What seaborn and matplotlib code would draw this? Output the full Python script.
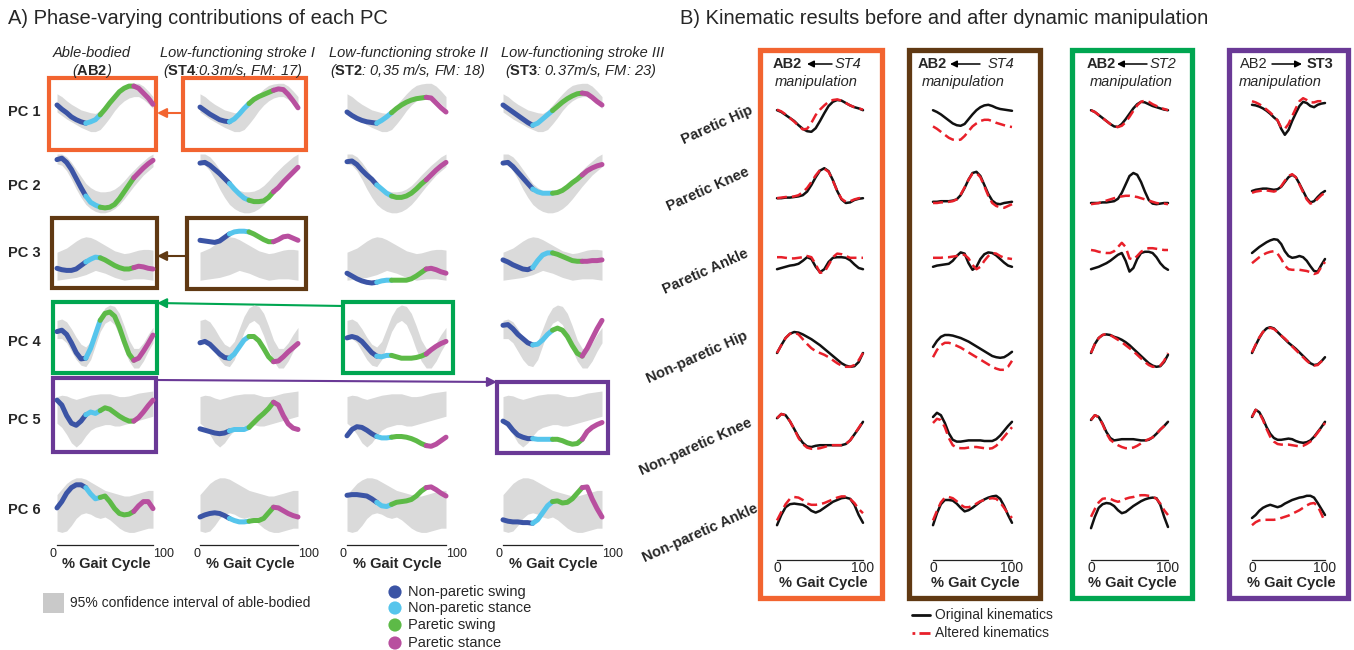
import matplotlib
matplotlib.use("Agg")
import matplotlib.pyplot as plt
from matplotlib.patches import Rectangle, FancyArrowPatch
import pandas as pd
import seaborn as sns

W, H = 1354, 650

# ---------------- data ----------------
GAIT_PCT = list(range(0, 101, 5))

PHASES = ["Non-paretic swing", "Non-paretic stance", "Paretic swing", "Paretic stance"]
PHASE_COLORS = ["#3B54A5", "#56C5EC", "#5DBA47", "#B84F9F"]
BAND_COLOR = "#DADADA"

SUBJECT_TITLES = ["Able-bodied", "Low-functioning stroke I",
                  "Low-functioning stroke II", "Low-functioning stroke III"]
SUBJECT_IDS = ["AB2", "ST4", "ST2", "ST3"]
SUBJECT_INFO = ["", ":0.3m/s, FM: 17", ": 0,35 m/s, FM: 18", ": 0.37m/s, FM: 23"]
# gait phase boundaries (% gait cycle) for AB2, ST4, ST2, ST3
PHASE_BOUNDS = [[0, 30, 45, 80, 100], [0, 30, 50, 75, 100],
                [0, 30, 45, 80, 100], [0, 30, 50, 80, 100]]

PC_LABELS = ["PC 1", "PC 2", "PC 3", "PC 4", "PC 5", "PC 6"]

# PC contributions (normalised units), one list per subject: AB2, ST4, ST2, ST3
PC1 = [[60, 54, 49, 43, 39, 36, 34, 36, 39, 46, 54, 63, 71, 79, 84, 87, 87, 84, 77, 70, 61],
       [57, 52, 47, 43, 39, 37, 36, 40, 47, 55, 62, 68, 72, 75, 78, 81, 83, 82, 75, 66, 56],
       [50, 45, 41, 38, 36, 35, 34, 38, 43, 49, 55, 60, 64, 67, 69, 70, 71, 70, 63, 56, 50],
       [60, 55, 50, 45, 40, 35, 31, 34, 40, 46, 52, 58, 64, 69, 73, 76, 77, 76, 71, 65, 60]]
PC2 = [[82, 84, 78, 68, 55, 42, 30, 21, 17, 14, 13, 14, 18, 26, 36, 46, 56, 63, 70, 76, 81],
       [77, 78, 74, 68, 62, 55, 48, 40, 33, 27, 24, 22, 22, 23, 28, 36, 42, 50, 57, 64, 71],
       [79, 80, 75, 67, 60, 54, 46, 40, 34, 30, 28, 28, 30, 34, 40, 47, 53, 60, 67, 73, 78],
       [77, 78, 72, 64, 56, 48, 40, 36, 34, 34, 34, 35, 38, 43, 49, 54, 60, 66, 70, 73, 75]]
PC3 = [[31, 29, 28, 28, 30, 35, 40, 44, 47, 46, 43, 39, 35, 32, 30, 30, 32, 34, 33, 31, 30],
       [71, 70, 69, 68, 70, 75, 80, 83, 84, 84, 83, 80, 76, 72, 69, 69, 72, 76, 77, 74, 71],
       [24, 20, 16, 13, 11, 10, 11, 13, 14, 14, 14, 14, 14, 16, 20, 25, 30, 31, 29, 26, 24],
       [43, 40, 36, 33, 30, 29, 32, 42, 50, 53, 53, 51, 48, 45, 42, 41, 41, 41, 42, 42, 43]]
PC4 = [[62, 64, 58, 46, 32, 23, 24, 38, 58, 78, 88, 90, 84, 68, 48, 30, 21, 24, 34, 45, 57],
       [46, 48, 44, 37, 30, 25, 24, 30, 40, 50, 55, 55, 49, 38, 26, 19, 20, 26, 33, 39, 45],
       [53, 55, 53, 48, 40, 32, 27, 26, 28, 28, 26, 24, 24, 24, 25, 27, 30, 36, 41, 45, 48],
       [71, 72, 66, 58, 52, 46, 43, 44, 50, 58, 64, 67, 64, 55, 42, 31, 27, 38, 52, 66, 78]]
PC5 = [[67, 60, 45, 34, 31, 37, 46, 50, 48, 52, 56, 54, 49, 44, 40, 37, 37, 42, 50, 59, 67],
       [26, 24, 22, 20, 19, 20, 23, 25, 25, 25, 28, 35, 42, 48, 55, 64, 60, 45, 33, 27, 25],
       [16, 25, 29, 28, 24, 19, 15, 13, 13, 14, 15, 15, 14, 12, 9, 5, 2, 1, 4, 9, 14],
       [37, 33, 24, 17, 14, 12, 12, 11, 11, 11, 11, 11, 9, 6, 4, 5, 11, 22, 28, 32, 35]]
PC6 = [[53, 62, 74, 82, 86, 86, 82, 73, 66, 68, 70, 62, 52, 45, 43, 44, 48, 56, 62, 62, 52],
       [40, 43, 45, 46, 45, 42, 38, 35, 33, 33, 34, 35, 35, 38, 46, 54, 53, 49, 45, 42, 40],
       [71, 72, 72, 71, 70, 66, 61, 56, 55, 58, 61, 62, 63, 65, 70, 77, 82, 83, 79, 74, 70],
       [36, 34, 33, 33, 32, 32, 31, 36, 46, 56, 62, 63, 60, 61, 66, 74, 82, 83, 66, 52, 40]]

# 95% confidence interval of able-bodied (lower / upper) per PC
PC1_CI = [[50, 45, 40, 36, 32, 28, 25, 22, 22, 25, 33, 42, 52, 60, 66, 70, 72, 72, 68, 62, 55],
          [76, 72, 66, 61, 57, 53, 51, 49, 48, 52, 60, 68, 76, 83, 88, 90, 91, 91, 87, 80, 72]]
PC2_CI = [[76, 74, 66, 54, 40, 28, 18, 12, 8, 6, 6, 8, 12, 18, 26, 35, 44, 52, 60, 66, 72],
          [90, 90, 86, 78, 68, 58, 48, 42, 38, 36, 36, 37, 40, 45, 52, 60, 67, 74, 80, 86, 90]]
PC3_CI = [[14, 15, 16, 17, 18, 20, 22, 25, 28, 26, 24, 21, 18, 16, 14, 15, 16, 16, 16, 15, 14],
          [54, 57, 60, 65, 70, 74, 76, 75, 72, 68, 64, 60, 56, 54, 52, 53, 55, 57, 58, 58, 57]]
PC4_CI = [[52, 52, 46, 34, 22, 14, 12, 22, 42, 62, 74, 78, 72, 56, 36, 20, 10, 10, 20, 34, 46],
          [78, 80, 76, 66, 54, 44, 40, 48, 66, 84, 96, 100, 98, 88, 70, 50, 38, 38, 46, 58, 68]]
PC5_CI = [[34, 28, 18, 6, 0, 6, 16, 24, 28, 30, 32, 32, 30, 30, 32, 34, 36, 38, 40, 42, 44],
          [72, 74, 73, 70, 68, 70, 72, 74, 75, 76, 76, 76, 74, 72, 72, 73, 75, 77, 78, 79, 80]]
PC6_CI = [[20, 18, 20, 28, 38, 44, 46, 44, 40, 38, 40, 36, 30, 24, 20, 18, 18, 20, 22, 24, 24],
          [72, 80, 88, 93, 96, 96, 94, 90, 86, 82, 78, 76, 74, 72, 70, 70, 72, 74, 76, 78, 78]]

PC_CURVES = [PC1, PC2, PC3, PC4, PC5, PC6]
PC_BANDS = [PC1_CI, PC2_CI, PC3_CI, PC4_CI, PC5_CI, PC6_CI]

# ---- panel B: joint kinematics (normalised), columns = the four manipulations
JOINTS = ["Paretic Hip", "Paretic Knee", "Paretic Ankle",
          "Non-paretic Hip", "Non-paretic Knee", "Non-paretic Ankle"]
MANIP_COLORS = ["#F26430", "#603913", "#00A651", "#6A3996"]
KIN_KINDS = ["Original kinematics", "Altered kinematics"]
KIN_COLORS = ["#111111", "#E8202A"]

P_HIP_ORIG = [[63, 60, 55, 50, 45, 38, 32, 28, 27, 33, 45, 58, 70, 77, 80, 79, 75, 71, 68, 66, 63],
              [63, 60, 56, 51, 46, 41, 38, 37, 40, 48, 56, 63, 68, 71, 72, 70, 67, 65, 64, 63, 62],
              [63, 60, 55, 50, 45, 40, 36, 35, 40, 48, 57, 66, 73, 77, 76, 73, 70, 68, 66, 64, 63],
              [72, 71, 69, 66, 62, 57, 51, 46, 32, 22, 30, 45, 58, 70, 77, 75, 70, 68, 72, 74, 75]]
P_HIP_ALT = [[64, 61, 56, 50, 44, 37, 31, 32, 42, 55, 64, 71, 77, 80, 81, 79, 75, 71, 68, 66, 64],
             [36, 32, 27, 22, 17, 14, 13, 14, 20, 28, 36, 41, 45, 47, 47, 45, 42, 40, 38, 36, 35],
             [63, 60, 55, 50, 45, 40, 36, 35, 37, 43, 52, 62, 71, 77, 79, 77, 73, 70, 67, 65, 63],
             [78, 76, 73, 69, 64, 59, 53, 46, 34, 32, 40, 53, 66, 78, 83, 80, 76, 76, 78, 78, 78]]
P_KNEE_ORIG = [[33, 33, 34, 34, 35, 36, 38, 44, 55, 68, 79, 83, 78, 63, 45, 31, 25, 26, 30, 32, 33],
               [27, 27, 28, 28, 28, 29, 31, 38, 50, 64, 75, 77, 70, 55, 40, 29, 24, 23, 25, 26, 27],
               [25, 25, 25, 26, 26, 27, 28, 32, 42, 56, 70, 75, 72, 60, 44, 30, 24, 23, 24, 25, 25],
               [45, 47, 48, 49, 49, 48, 47, 48, 52, 60, 68, 72, 68, 57, 45, 33, 26, 28, 35, 41, 45]]
P_KNEE_ALT = [[33, 34, 35, 35, 36, 38, 43, 50, 60, 71, 80, 82, 77, 62, 45, 32, 27, 28, 31, 33, 34],
              [25, 25, 26, 26, 27, 28, 31, 39, 51, 64, 74, 75, 68, 53, 37, 25, 20, 18, 17, 20, 23],
              [23, 24, 25, 27, 29, 31, 33, 35, 36, 37, 37, 36, 35, 33, 31, 29, 27, 25, 24, 24, 23],
              [42, 44, 45, 46, 46, 45, 44, 46, 53, 62, 70, 73, 68, 56, 43, 31, 24, 26, 32, 38, 42]]
P_ANKLE_ORIG = [[38, 40, 42, 44, 45, 47, 52, 58, 55, 42, 33, 38, 50, 57, 58, 58, 57, 53, 46, 40, 38],
                [42, 44, 45, 46, 47, 52, 60, 66, 64, 48, 37, 42, 55, 63, 66, 65, 61, 55, 49, 44, 42],
                [38, 40, 42, 45, 48, 52, 57, 62, 65, 52, 34, 40, 55, 65, 67, 67, 65, 58, 48, 41, 37],
                [65, 70, 75, 79, 83, 86, 88, 87, 80, 68, 60, 57, 58, 60, 58, 52, 43, 35, 34, 45, 55]]
P_ANKLE_ALT = [[58, 58, 57, 56, 56, 57, 58, 60, 58, 46, 32, 33, 45, 58, 64, 63, 60, 57, 57, 57, 57],
               [57, 57, 57, 58, 58, 59, 60, 62, 62, 56, 45, 38, 42, 52, 60, 65, 64, 60, 57, 56, 55],
               [70, 69, 67, 66, 65, 65, 68, 75, 82, 75, 56, 54, 60, 67, 71, 73, 73, 72, 71, 70, 70],
               [48, 53, 58, 62, 65, 67, 68, 64, 55, 44, 38, 37, 37, 37, 36, 35, 33, 30, 32, 42, 50]]
NP_HIP_ORIG = [[45, 58, 70, 77, 80, 79, 76, 72, 68, 63, 58, 52, 46, 40, 34, 28, 24, 22, 23, 30, 45],
               [55, 65, 72, 75, 75, 74, 72, 70, 67, 64, 60, 56, 52, 48, 44, 40, 38, 37, 38, 42, 47],
               [45, 60, 70, 75, 76, 75, 72, 70, 67, 63, 58, 52, 46, 40, 34, 28, 24, 22, 23, 30, 42],
               [45, 58, 70, 80, 86, 88, 86, 80, 74, 68, 62, 57, 52, 46, 40, 34, 28, 25, 26, 31, 38]]
NP_HIP_ALT = [[45, 58, 70, 77, 79, 76, 68, 60, 53, 48, 45, 42, 38, 33, 28, 24, 22, 22, 25, 33, 45],
              [38, 50, 58, 62, 62, 60, 57, 54, 50, 46, 42, 38, 34, 30, 26, 22, 19, 17, 17, 22, 32],
              [45, 60, 70, 75, 77, 75, 71, 67, 63, 58, 53, 48, 42, 36, 30, 25, 22, 22, 24, 32, 45],
              [46, 59, 71, 80, 85, 87, 85, 80, 74, 69, 63, 56, 50, 44, 38, 32, 27, 24, 25, 31, 39]]
NP_KNEE_ORIG = [[73, 80, 78, 68, 55, 42, 32, 26, 25, 27, 28, 28, 28, 28, 28, 28, 30, 36, 46, 56, 67],
                [75, 82, 78, 65, 48, 37, 34, 34, 35, 36, 36, 36, 36, 35, 35, 35, 38, 44, 52, 60, 67],
                [70, 78, 75, 64, 50, 40, 36, 37, 38, 38, 38, 38, 37, 36, 36, 37, 41, 47, 54, 60, 67],
                [75, 87, 83, 72, 58, 47, 40, 37, 37, 38, 39, 38, 35, 33, 32, 33, 36, 42, 50, 58, 67]]
NP_KNEE_ALT = [[73, 80, 78, 68, 55, 40, 30, 24, 22, 22, 23, 25, 27, 28, 28, 28, 30, 36, 46, 57, 68],
               [65, 72, 70, 58, 40, 28, 24, 23, 23, 24, 25, 25, 24, 23, 22, 23, 27, 34, 42, 50, 58],
               [70, 78, 75, 63, 48, 37, 32, 28, 25, 23, 23, 24, 27, 31, 35, 38, 41, 47, 54, 60, 67],
               [75, 87, 82, 70, 55, 42, 34, 30, 29, 29, 29, 28, 27, 26, 27, 30, 34, 41, 49, 57, 65]]
NP_ANKLE_ORIG = [[28, 45, 58, 63, 64, 63, 62, 58, 52, 49, 52, 57, 62, 67, 70, 73, 74, 72, 62, 45, 32],
                 [28, 48, 63, 70, 70, 69, 64, 57, 51, 53, 57, 62, 67, 71, 74, 76, 77, 72, 60, 45, 32],
                 [23, 42, 57, 63, 65, 64, 60, 53, 48, 50, 55, 60, 64, 68, 71, 73, 74, 73, 62, 42, 25],
                 [40, 45, 52, 57, 60, 62, 60, 58, 60, 64, 67, 70, 72, 74, 75, 77, 77, 74, 65, 55, 45]]
NP_ANKLE_ALT = [[36, 50, 63, 72, 75, 74, 70, 64, 62, 62, 63, 65, 68, 71, 74, 76, 76, 72, 65, 55, 48],
                [36, 52, 66, 74, 75, 73, 68, 62, 58, 58, 60, 64, 68, 70, 72, 73, 72, 66, 57, 47, 40],
                [42, 55, 66, 72, 73, 72, 69, 67, 69, 72, 74, 75, 77, 78, 78, 77, 76, 72, 64, 53, 45],
                [28, 33, 36, 37, 37, 37, 37, 38, 40, 42, 44, 47, 50, 53, 57, 61, 64, 65, 60, 47, 33]]

KIN_ORIG = [P_HIP_ORIG, P_KNEE_ORIG, P_ANKLE_ORIG, NP_HIP_ORIG, NP_KNEE_ORIG, NP_ANKLE_ORIG]
KIN_ALT = [P_HIP_ALT, P_KNEE_ALT, P_ANKLE_ALT, NP_HIP_ALT, NP_KNEE_ALT, NP_ANKLE_ALT]

# ---------------- figure ----------------
sns.set_style("white")
plt.rcParams["font.family"] = ["Liberation Sans", "DejaVu Sans"]
plt.rcParams["mathtext.fontset"] = "custom"
plt.rcParams["mathtext.rm"] = "Liberation Sans"
plt.rcParams["mathtext.it"] = "Liberation Sans:italic"
plt.rcParams["mathtext.bf"] = "Liberation Sans:bold"

fig = plt.figure(figsize=(W / 100, H / 100), dpi=100)
bg = fig.add_axes([0, 0, 1, 1])
bg.set_xlim(0, W)
bg.set_ylim(H, 0)
bg.axis("off")


def mini_axes(x0, x1, yc, h):
    ax = fig.add_axes([x0 / W, 1 - (yc + h / 2) / H, (x1 - x0) / W, h / H])
    ax.set_facecolor("none")
    return ax


def finish_axes(ax, scale_bar=False, offset=0, tick_size=8, tick_ha=("right", "left"), pad=1):
    ax.set_xlim(0, 100)
    ax.set_ylim(0, 100)
    ax.set_xlabel("")
    ax.set_ylabel("")
    ax.set_yticks([])
    for side in ["top", "right", "left"]:
        ax.spines[side].set_visible(False)
    for art in ax.lines + ax.collections:
        art.set_clip_on(False)
    if scale_bar:
        ax.spines["bottom"].set_position(("outward", offset))
        ax.spines["bottom"].set_linewidth(0.9)
        ax.spines["bottom"].set_color("#222222")
        ax.set_xticks([0, 100])
        ax.set_xticklabels(["0", "100"], fontsize=tick_size, color="#222222")
        ax.tick_params(axis="x", direction="in", length=3, width=0.9, pad=pad)
        lbl = ax.get_xticklabels()
        lbl[0].set_ha(tick_ha[0])
        lbl[1].set_ha(tick_ha[1])
    else:
        ax.spines["bottom"].set_visible(False)
        ax.set_xticks([])


def frame(x0, y0, x1, y1, color, lw):
    bg.add_patch(Rectangle((x0, y0), x1 - x0, y1 - y0, fill=False, ec=color, lw=lw))


def arrow(tail, head, color, lw=1.5, size=14):
    bg.add_patch(FancyArrowPatch(tail, head, arrowstyle="-|>", mutation_scale=size,
                                 color=color, lw=lw, shrinkA=0, shrinkB=0))


# ---- panel A ----
bg.text(8, 18, "A) Phase-varying contributions of each PC", fontsize=14.5, va="center")

A_COLS = [(57, 153), (200, 298), (347, 446), (503, 602)]
A_ROWS = [112, 182, 255, 340, 412, 510]
A_LABEL_Y = [112, 186, 253, 342, 420, 510]
A_H = 70

for r, (curves, band) in enumerate(zip(PC_CURVES, PC_BANDS)):
    bg.text(24, A_LABEL_Y[r], PC_LABELS[r], ha="center", va="center",
            fontsize=10.5, fontweight="bold")
    for c, vals in enumerate(curves):
        ax = mini_axes(A_COLS[c][0], A_COLS[c][1], A_ROWS[r], A_H)
        ax.fill_between(GAIT_PCT, band[0], band[1], color=BAND_COLOR, lw=0)
        b = PHASE_BOUNDS[c]
        rows = []
        for k, ph in enumerate(PHASES):
            for p, v in zip(GAIT_PCT, vals):
                if b[k] <= p <= b[k + 1]:
                    rows.append((p, v, ph))
        df = pd.DataFrame(rows, columns=["pct", "value", "phase"])
        sns.lineplot(data=df, x="pct", y="value", hue="phase", hue_order=PHASES,
                     palette=PHASE_COLORS, estimator=None, lw=3.6, legend=False,
                     solid_capstyle="round", ax=ax)
        finish_axes(ax, scale_bar=(r == len(PC_CURVES) - 1), offset=0, tick_size=9, pad=2.5)

for c, (x0, x1) in enumerate(A_COLS):
    bg.text((x0 + x1) / 2 + 1, 564, "% Gait Cycle", ha="center", va="center",
            fontsize=10.5, fontweight="bold")

A_TITLE_X = [92, 237, 409, 583]
A_DETAIL_X = [92, 233, 408, 581]
for c in range(4):
    bg.text(A_TITLE_X[c], 53, SUBJECT_TITLES[c], ha="center", va="center",
            fontsize=10.5, fontstyle="italic")
    detail = "(" + r"$\mathbf{" + SUBJECT_IDS[c] + "}$" + SUBJECT_INFO[c] + ")"
    bg.text(A_DETAIL_X[c], 71, detail, ha="center", va="center",
            fontsize=10.5, fontstyle="italic")

# highlight frames and arrows
frame(49, 78, 156, 150, MANIP_COLORS[0], 3)
frame(183, 78, 306, 150, MANIP_COLORS[0], 3)
arrow((183, 113), (157, 113), MANIP_COLORS[0])
frame(52, 218, 157, 288, MANIP_COLORS[1], 3)
frame(187, 218, 306, 289, MANIP_COLORS[1], 3)
arrow((187, 256), (157, 256), MANIP_COLORS[1])
frame(53, 302, 157, 373, MANIP_COLORS[2], 3)
frame(343, 302, 453, 373, MANIP_COLORS[2], 3)
arrow((343, 306), (157, 303), MANIP_COLORS[2])
frame(53, 378, 156, 452, MANIP_COLORS[3], 3)
frame(497, 382, 608, 453, MANIP_COLORS[3], 3)
arrow((156, 380), (497, 382), MANIP_COLORS[3])

# legends of panel A
bg.add_patch(Rectangle((43, 593), 21, 20, color="#C9C9C9", lw=0))
bg.text(70, 603, "95% confidence interval of able-bodied", va="center", fontsize=10)
LEG_Y = [592, 608, 625, 643]
bg.scatter([395] * 4, LEG_Y, s=90, c=PHASE_COLORS, lw=0)
for y, ph in zip(LEG_Y, PHASES):
    bg.text(408, y, ph, va="center", fontsize=10.5)

# ---- panel B ----
bg.text(680, 18, "B) Kinematic results before and after dynamic manipulation",
        fontsize=14.5, va="center")

B_COLS = [(777, 863), (933, 1012), (1091, 1168), (1252, 1325)]
B_ROWS = [118, 188, 262, 350, 432, 512]
B_H = 60
B_LABEL_END = [(752, 109), (749, 171), (748, 253), (747, 335), (751, 422), (757, 508)]

for r, joint in enumerate(JOINTS):
    bg.text(B_LABEL_END[r][0], B_LABEL_END[r][1], joint, rotation=24, rotation_mode="anchor",
            ha="right", va="center", fontsize=10.5, fontweight="bold")
    for c in range(4):
        ax = mini_axes(B_COLS[c][0], B_COLS[c][1], B_ROWS[r], B_H)
        df = pd.DataFrame({
            "pct": GAIT_PCT * 2,
            "value": KIN_ORIG[r][c] + KIN_ALT[r][c],
            "kind": [KIN_KINDS[0]] * len(GAIT_PCT) + [KIN_KINDS[1]] * len(GAIT_PCT),
        })
        sns.lineplot(data=df, x="pct", y="value", hue="kind", style="kind",
                     hue_order=KIN_KINDS, style_order=KIN_KINDS, palette=KIN_COLORS,
                     dashes=["", (4, 2)], estimator=None, lw=1.8, legend=False, ax=ax)
        finish_axes(ax, scale_bar=(r == len(JOINTS) - 1), offset=13, tick_size=10,
                    tick_ha=("center", "center"), pad=1)

for c, (x0, x1) in enumerate(B_COLS):
    bg.text((x0 + x1) / 2 + 3, 583, "% Gait Cycle", ha="center", va="center",
            fontsize=10.5, fontweight="bold")

B_FRAMES = [(760, 50, 882, 598), (909, 50, 1040, 598), (1072, 50, 1192, 598), (1229, 50, 1348, 598)]
for (x0, y0, x1, y1), col in zip(B_FRAMES, MANIP_COLORS):
    frame(x0, y0, x1, y1, col, 3.8)

# manipulation headers
HDR = [
    ((773, "AB2", "bold"), (832, 807), (835, "ST4", "italic"), 816),
    ((918, "AB2", "bold"), (980, 950), (988, "ST4", "italic"), 963),
    ((1087, "AB2", "bold"), (1147, 1117), (1150, "ST2", "italic"), 1131),
    ((1240, "AB2", "normal"), (1272, 1302), (1307, "ST3", "bold"), 1280),
]
for (lx, ls, lk), (ta, hd), (rx, rs, rk), mx in HDR:
    bg.text(lx, 64, ls, va="center", fontsize=10.5,
            fontweight="bold" if lk == "bold" else "normal")
    bg.text(rx, 64, rs, va="center", fontsize=10.5,
            fontweight="bold" if rk == "bold" else "normal",
            fontstyle="italic" if rk == "italic" else "normal")
    arrow((ta, 64), (hd, 64), "black", lw=1.1, size=10)
    bg.text(mx, 82, "manipulation", ha="center", va="center", fontsize=10.5,
            fontstyle="italic")

# legend of panel B
bg.plot([912, 930], [615, 615], color=KIN_COLORS[0], lw=2)
bg.plot([912, 930], [633, 633], color=KIN_COLORS[1], lw=2, linestyle=(0, (1, 1.5, 5, 1)))
bg.text(935, 615, "Original kinematics", va="center", fontsize=10)
bg.text(935, 633, "Altered kinematics", va="center", fontsize=10)

fig.savefig("out.png", dpi=100)
